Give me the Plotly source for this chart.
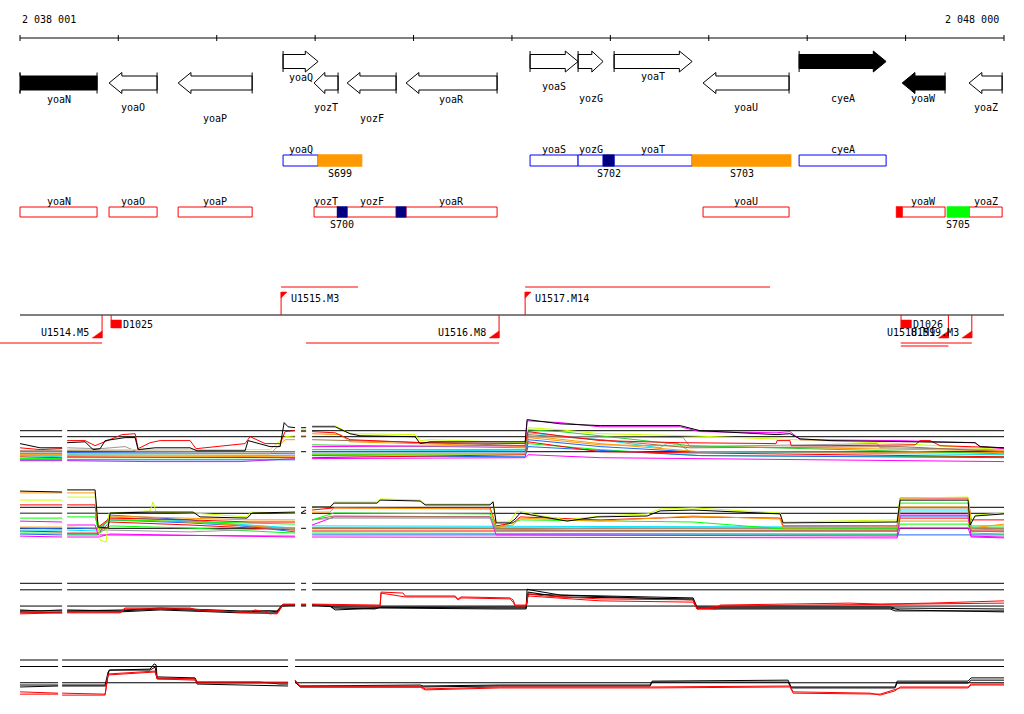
import plotly.graph_objects as go

# ---------------- genomic window ----------------
VIEW_START = 2038001
VIEW_END = 2048000
RULER_TICKS = [2038001, 2039000, 2040000, 2041000, 2042000, 2043000,
               2044000, 2045000, 2046000, 2047000, 2048000]
RULER_LABELS = ["2 038 001", "2 048 000"]

# ---------------- genes ----------------
GENE_NAME = ["yoaN", "yoaO", "yoaP", "yoaQ", "yozT", "yozF", "yoaR",
             "yoaS", "yozG", "yoaT", "yoaU", "cyeA", "yoaW", "yoaZ"]
GENE_START = [2037870, 2038906, 2039608, 2040674, 2040989, 2041325, 2041924,
              2043184, 2043672, 2044038, 2044942, 2045918, 2046965, 2047645]
GENE_END = [2038784, 2039394, 2040360, 2041030, 2041233, 2041823, 2042849,
            2043672, 2043926, 2044831, 2045816, 2046802, 2047401, 2047981]
GENE_STRAND = ["-", "-", "-", "+", "-", "-", "-", "+", "+", "+", "-", "+", "-", "-"]
GENE_FILLED = [True, False, False, False, False, False, False,
               False, False, False, False, True, True, False]

# ---------------- annotated segments ----------------
SEG_NAME = ["S699", "S700", "", "S702", "S703", "", "S705"]
SEG_START = [2041030, 2041223, 2041823, 2043926, 2044831, 2046904, 2047420]
SEG_END = [2041477, 2041325, 2041924, 2044038, 2045837, 2046965, 2047645]
SEG_STRAND = ["+", "-", "-", "+", "+", "-", "-"]
SEG_COLOR = ["#ff9900", "#000080", "#000080", "#000080", "#ff9900", "#ff0000", "#00ff00"]

# ---------------- transcription units / terminators ----------------
TU_NAME = ["U1514.M5", "U1515.M3", "U1516.M8", "U1517.M14", "U1518.M9", "U1519.M3"]
TU_START = [2037500, 2040654, 2040908, 2043134, 2046951, 2046951]
TU_END = [2038835, 2041437, 2042869, 2045623, 2047435, 2047673]
TU_STRAND = ["-", "+", "-", "+", "-", "-"]
TU_LANE = [0, 0, 0, 0, 1, 0]
TERM_NAME = ["D1025", "D1026"]
TERM_POS = [2038927, 2046954]

# ---------------- expression profiles ----------------
REF_LEVELS = [14, 12, 7]
SEGS_ABC = [(2038001, 2038429), (2038480, 2040796), (2040857, 2040908), (2040969, 2048000)]
SEGS_4 = [(2038001, 2038388), (2038429, 2040725), (2040796, 2048000)]

P1_BLACK = [(2038001, 9.7), (2038104, 9.0), (2038205, 8.3), (2038429, 8.3), None,
            (2038480, 10.0), (2038662, 10.3), (2038744, 7.7), (2038815, 8.0), (2038866, 10.7), (2039069, 11.7),
            (2039171, 11.7), (2039201, 7.7), (2039374, 8.3), (2039729, 8.3), (2039801, 7.3), (2040288, 7.3),
            (2040319, 10.7), (2040390, 10.0), (2040542, 8.7), (2040644, 8.7), (2040685, 16.7), (2040725, 15.3),
            (2040796, 15.0), None,
            (2040857, 15.0), (2040908, 15.0), None,
            (2040969, 15.3), (2041203, 15.3), (2041355, 13.0), (2041457, 12.3), (2042016, 12.0), (2042067, 9.7),
            (2042168, 10.3), (2043134, 10.3), (2043154, 17.7), (2043337, 17.0), (2043489, 16.3), (2043896, 15.7),
            (2044709, 15.7), (2044912, 14.0), (2045268, 13.3), (2045684, 12.7), (2045826, 13.0), (2045928, 11.3),
            (2046233, 10.7), (2046944, 10.3), (2047706, 10.0), (2047757, 8.7), (2048000, 8.3)]
P1_RED = [(2038001, 8.3), (2038205, 7.7), (2038429, 8.0), None,
          (2038480, 10.7), (2038662, 10.7), (2038764, 9.0), (2038866, 10.3), (2039039, 12.7), (2039171, 13.0),
          (2039201, 8.0), (2039323, 10.0), (2039425, 10.7), (2039729, 10.7), (2039790, 8.0), (2040288, 9.7),
          (2040339, 12.0), (2040492, 9.7), (2040644, 9.7), (2040695, 13.7), (2040796, 14.0), None,
          (2040857, 13.7), (2040908, 13.7), None,
          (2040969, 13.7), (2041203, 13.3), (2041355, 11.0), (2042067, 10.0), (2043134, 9.7), (2043164, 13.7),
          (2043489, 12.3), (2043896, 10.7), (2044709, 10.0), (2045684, 9.7), (2045694, 10.7), (2045826, 10.7),
          (2045837, 9.0), (2046233, 9.0), (2047097, 9.3), (2047147, 10.7), (2047249, 10.7), (2047351, 9.0),
          (2048000, 8.3)]
P1_MAGENTA = [(2040969, 8.7), (2043134, 9.0), (2043154, 17.3), (2043489, 16.7), (2043896, 15.3), (2044709, 15.3),
              (2044912, 13.7), (2045684, 13.3), (2045826, 13.7), (2045928, 11.0), (2046944, 10.7), (2047706, 10.0),
              (2047757, 8.7), (2048000, 8.0)]
P1_YELLOW = [(2038480, 7.7), (2040542, 7.7), (2040695, 12.0), (2040796, 12.3), None,
             (2040857, 14.3), (2040908, 14.3), None,
             (2040969, 15.7), (2041203, 15.7), (2041355, 13.0), (2042016, 12.7), (2042067, 10.7), (2042168, 11.0),
             (2043134, 10.0), (2043164, 15.0), (2043489, 14.3), (2043896, 13.0), (2044810, 12.3), (2046944, 9.7),
             (2048000, 7.7)]
P1_GRAY = [(2038001, 7.0), (2038429, 7.0), None,
           (2038480, 8.3), (2038815, 8.0), (2039069, 8.7), (2039191, 7.0), (2040796, 7.0), None,
           (2040969, 7.7), (2043134, 7.7), (2043164, 12.0), (2043692, 12.0), (2044739, 11.7), (2044810, 8.7),
           (2045999, 9.3), (2046711, 9.7), (2046741, 8.3), (2048000, 7.7)]
P1_ORANGE = [(2038001, 6.0), (2038429, 6.0), None,
             (2038480, 6.3), (2040542, 6.3), (2040695, 11.0), (2040796, 11.0), None,
             (2040857, 12.3), (2040908, 12.3), None,
             (2040969, 13.0), (2041254, 12.7), (2041355, 10.3), (2043134, 8.7), (2043164, 12.3), (2043896, 9.7),
             (2044912, 7.0), (2048000, 6.7)]
P1_CYAN = [(2038001, 5.7), (2038429, 5.3), None,
           (2038480, 6.0), (2040796, 5.7), None,
           (2040969, 7.7), (2043134, 7.3), (2043164, 13.3), (2043896, 11.0), (2044505, 8.3), (2044587, 10.0),
           (2044688, 9.7), (2044810, 7.0), (2048000, 6.0)]
P1_BLUE = [(2038001, 6.3), (2038429, 6.3), None,
           (2038480, 6.7), (2040796, 6.3), None,
           (2040969, 7.0), (2043134, 7.0), (2043164, 11.0), (2043896, 8.7), (2044810, 7.0), (2048000, 6.7)]
P1_GREEN = [(2038001, 4.7), (2038429, 4.7), None,
            (2038480, 5.0), (2040796, 5.0), None,
            (2040969, 6.0), (2043134, 6.3), (2043164, 9.7), (2043896, 7.7), (2044912, 5.7), (2048000, 5.3)]
P1_BROWN = [(2038001, 7.3), (2038429, 7.3), None,
            (2038480, 7.3), (2040796, 7.0), None,
            (2040969, 11.0), (2041863, 10.3), (2043134, 9.0), (2043164, 12.7), (2043896, 11.0), (2044810, 8.3),
            (2046944, 8.7), (2048000, 7.0)]
P1_RED2 = [(2038001, 5.3), (2038429, 5.0), None,
           (2038480, 5.3), (2040796, 5.0), None,
           (2040969, 5.0), (2043134, 6.0), (2043164, 10.3), (2043896, 7.0), (2048000, 5.3)]
P1_MAGENTA2 = [(2038001, 4.0), (2038429, 4.0), None,
               (2038480, 4.0), (2039323, 3.7), (2040238, 3.7), (2040796, 4.7), None,
               (2040969, 4.7), (2043134, 5.0), (2043164, 6.0), (2043896, 5.0), (2048000, 3.7)]
P1_BLUE2 = [(2038001, 4.3), (2038429, 4.3), None,
            (2038480, 4.3), (2040796, 4.3), None,
            (2040969, 5.7), (2043134, 5.3), (2043164, 8.7), (2044912, 5.7), (2048000, 5.0)]
P1_ORANGE2 = [(2038001, 5.7), (2038429, 5.7), None,
              (2038480, 5.7), (2040796, 5.3), None,
              (2040969, 6.3), (2043134, 6.3), (2043164, 11.7), (2043896, 9.3), (2048000, 7.3)]
P1_GREEN2 = [(2040969, 9.3), (2043134, 8.3), (2043164, 14.3), (2043489, 13.7), (2043896, 12.3), (2044810, 9.0),
             (2048000, 6.3)]

P2_BLACK = [(2038001, 19.4), (2038429, 19.1), None,
            (2038480, 19.8), (2038764, 19.8), (2038795, 7.4), (2038896, 7.1), (2038917, 12.1), (2039323, 12.4),
            (2039760, 12.4), (2039831, 10.8), (2040309, 10.4), (2040360, 12.1), (2040796, 12.4), None,
            (2040857, 12.1), (2040908, 13.1), None,
            (2040969, 14.1), (2041152, 14.1), (2041193, 15.4), (2041630, 15.4), (2041660, 16.4), (2042067, 16.1),
            (2042118, 14.8), (2042778, 14.8), (2042808, 15.8), (2042839, 8.8), (2042981, 8.8), (2043032, 10.1),
            (2043083, 12.1), (2043256, 11.1), (2043560, 9.4), (2043865, 10.8), (2044373, 11.1), (2044505, 12.8),
            (2044841, 13.1), (2045725, 11.8), (2045755, 8.8), (2046914, 9.1), (2046944, 16.4), (2047635, 16.4),
            (2047656, 8.1), (2047706, 11.1), (2048000, 11.8)]
P2_YELLOW = [(2038001, 16.4), (2038429, 16.4), None,
             (2038480, 17.4), (2038764, 17.4), (2038795, 8.1), (2038815, 3.1), (2038876, 2.4), (2038906, 12.1),
             (2039323, 12.8), (2039353, 15.8), (2039384, 12.4), (2039760, 12.1), (2040309, 10.8), (2040339, 12.4),
             (2040796, 12.1), None,
             (2040857, 12.1), (2040908, 13.8), None,
             (2040969, 13.8), (2041152, 14.1), (2041193, 15.8), (2041630, 15.8), (2041660, 16.8), (2042067, 16.4),
             (2042118, 15.1), (2042778, 15.1), (2042808, 16.1), (2042839, 9.1), (2042981, 9.4), (2043052, 12.8),
             (2043134, 12.4), (2043256, 11.4), (2043560, 9.8), (2043896, 11.1), (2044373, 11.8), (2044505, 13.4),
             (2044841, 13.8), (2045725, 12.1), (2045755, 9.1), (2046914, 9.8), (2046944, 17.1), (2047635, 17.4),
             (2047666, 8.8), (2047706, 11.4), (2048000, 12.1)]
P2_ORANGE = [(2038001, 18.8), (2038429, 18.8), None,
             (2038480, 18.8), (2038764, 18.8), (2038795, 7.1), (2038896, 7.1), (2038917, 11.1), (2039729, 10.4),
             (2040339, 9.8), (2040796, 9.8), None,
             (2040969, 12.4), (2041152, 12.4), (2041193, 13.8), (2042778, 13.4), (2042839, 7.4), (2043012, 8.1),
             (2043083, 10.4), (2043896, 9.4), (2044841, 11.1), (2045725, 10.1), (2045755, 7.1), (2046914, 7.4),
             (2046944, 14.1), (2047635, 14.1), (2047666, 7.1), (2048000, 8.4)]
P2_RED = [(2038001, 14.8), (2038429, 14.8), None,
          (2038480, 14.8), (2038764, 14.8), (2038795, 7.4), (2038917, 10.4), (2039729, 9.8), (2040339, 9.1),
          (2040796, 9.1), None,
          (2040969, 13.1), (2041193, 13.8), (2042778, 13.8), (2042839, 7.8), (2043012, 8.8), (2043083, 10.8),
          (2043896, 9.8), (2044841, 10.8), (2045725, 10.4), (2045755, 7.8), (2046914, 7.8), (2046944, 17.1),
          (2047635, 17.1), (2047666, 9.8), (2048000, 9.8)]
P2_GREEN = [(2038001, 10.4), (2038429, 10.4), None,
            (2038480, 10.8), (2038764, 10.8), (2038795, 6.8), (2038917, 9.8), (2040796, 8.4), None,
            (2040969, 9.8), (2041193, 12.1), (2042778, 11.8), (2042839, 7.1), (2043083, 9.8), (2044841, 9.1),
            (2045755, 6.8), (2046914, 6.8), (2046944, 15.4), (2047635, 15.4), (2047666, 7.8), (2048000, 7.8)]
P2_GRAY = [(2038001, 12.1), (2038429, 12.1), None,
           (2038480, 12.1), (2038764, 12.1), (2038795, 6.4), (2038917, 6.4), (2039729, 5.8), (2040796, 7.1), None,
           (2040969, 9.8), (2041193, 10.4), (2042778, 10.4), (2042839, 6.4), (2043896, 7.1), (2046914, 7.1),
           (2046944, 12.4), (2047635, 12.4), (2047666, 6.8), (2048000, 6.4)]
P2_MAGENTA = [(2038001, 9.4), (2038429, 9.1), None,
              (2038480, 8.1), (2038764, 8.1), (2038795, 4.8), (2040796, 4.4), None,
              (2040969, 8.1), (2041193, 10.8), (2042778, 10.8), (2042839, 4.8), (2046914, 4.4), (2046944, 11.4),
              (2047635, 11.4), (2047666, 4.4), (2048000, 4.1)]
P2_BROWN = [(2040969, 9.8), (2041193, 11.1), (2042778, 10.8), (2042839, 6.4), (2046914, 6.1), (2046944, 13.8),
            (2047635, 13.8), (2047666, 6.1), (2048000, 5.8)]
P2_CYAN = [(2038001, 6.4), (2038429, 6.4), None,
           (2038480, 6.4), (2038795, 6.1), (2038917, 10.8), (2039729, 9.4), (2040796, 7.1), None,
           (2040969, 7.8), (2046914, 7.4), (2046944, 13.1), (2047635, 13.1), (2047666, 7.4), (2048000, 7.1)]
P2_BLUE = [(2038001, 7.1), (2038429, 6.8), None,
           (2038480, 7.1), (2038795, 6.8), (2038917, 9.8), (2039729, 8.8), (2040796, 6.8), None,
           (2040969, 7.1), (2046914, 6.8), (2046944, 11.1), (2047635, 11.1), (2047666, 7.1), (2048000, 6.8)]
P2_RED2 = [(2038001, 6.1), (2038429, 5.8), None,
           (2038480, 5.4), (2038795, 5.4), (2038917, 9.1), (2039729, 8.1), (2040796, 6.4), None,
           (2040969, 6.1), (2046914, 6.1), (2046944, 10.4), (2047635, 10.4), (2047666, 6.1), (2048000, 6.1)]
P2_ORANGE2 = [(2038001, 7.4), (2038429, 7.4), None,
              (2038480, 7.4), (2038795, 7.1), (2038917, 10.1), (2039729, 9.1), (2040796, 6.8), None,
              (2040969, 6.8), (2046914, 6.8), (2046944, 9.4), (2047635, 9.4), (2047666, 6.8), (2048000, 6.8)]
P2_GREEN2 = [(2038001, 5.4), (2038429, 5.4), None,
             (2038480, 5.1), (2038795, 5.1), (2038917, 7.8), (2039729, 7.1), (2040796, 5.4), None,
             (2040969, 5.4), (2046914, 5.1), (2046944, 8.4), (2047635, 8.4), (2047666, 5.4), (2048000, 5.1)]
P2_MAGENTA2 = [(2038001, 4.4), (2038429, 4.1), None,
               (2038480, 4.1), (2038795, 4.1), (2038917, 5.1), (2040796, 4.1), None,
               (2040969, 4.1), (2046914, 3.8), (2046944, 7.1), (2047635, 7.1), (2047666, 4.1), (2048000, 3.8)]
P2_BLUE2 = [(2038001, 5.1), (2038429, 4.8), None,
            (2038480, 4.8), (2038795, 4.8), (2038917, 11.4), (2039729, 9.8), (2040796, 5.8), None,
            (2040969, 4.8), (2048000, 4.8)]

P3_BLACK1 = [(2038001, 5.8), (2038205, 5.5), (2038429, 5.8), None,
             (2038480, 5.8), (2039018, 5.5), (2039425, 6.1), (2039729, 5.8), (2040238, 5.2), (2040542, 5.5),
             (2040614, 5.2), (2040664, 7.3), (2040796, 7.3), None,
             (2040857, 7.3), (2040908, 7.3), None,
             (2040969, 7.3), (2041132, 7.3), (2041183, 6.4), (2041609, 6.1), (2041660, 6.7), (2043144, 6.7),
             (2043154, 12.2), (2043195, 11.9), (2043489, 10.4), (2043896, 10.1), (2044505, 9.8), (2044841, 9.5),
             (2044881, 6.7), (2046843, 6.7), (2046893, 6.4), (2047859, 6.1), (2048000, 6.1)]
P3_BLACK2 = [(2038001, 5.2), (2038429, 4.9), None,
             (2038480, 5.2), (2039018, 5.2), (2039425, 5.8), (2040238, 4.9), (2040614, 4.9), (2040664, 7.0),
             (2040796, 7.3), None,
             (2040857, 7.3), (2040908, 7.3), None,
             (2040969, 7.3), (2041152, 7.0), (2041203, 5.8), (2041660, 6.4), (2042880, 6.1), (2043144, 6.1),
             (2043164, 11.3), (2043489, 9.8), (2044841, 9.2), (2044881, 6.1), (2046843, 6.1), (2046893, 5.5),
             (2048000, 5.5)]
P3_BLACK3 = [(2038001, 5.5), (2038429, 5.5), None,
             (2038480, 5.5), (2039069, 5.8), (2039425, 6.4), (2040238, 5.5), (2040614, 5.5), (2040664, 7.3),
             (2040796, 7.3), None,
             (2040969, 7.3), (2041203, 6.7), (2042880, 6.4), (2043144, 6.4), (2043164, 10.7), (2044841, 8.9),
             (2044881, 6.4), (2046843, 6.4), (2046944, 5.8), (2048000, 5.2)]
P3_RED1 = [(2038001, 4.9), (2038429, 5.2), None,
           (2038480, 5.2), (2039018, 5.2), (2039069, 6.4), (2039729, 6.4), (2039831, 5.5), (2040339, 5.2),
           (2040390, 5.8), (2040492, 5.2), (2040542, 4.6), (2040614, 4.9), (2040674, 7.6), (2040796, 7.6), None,
           (2040857, 7.6), (2040908, 7.6), None,
           (2040969, 7.6), (2041660, 7.3), (2041670, 11.3), (2041894, 11.0), (2041914, 10.1), (2042422, 10.1),
           (2042453, 9.2), (2042483, 9.8), (2042981, 9.5), (2043012, 8.9), (2043032, 7.3), (2043144, 7.3),
           (2043164, 10.7), (2043337, 10.1), (2043896, 9.2), (2044841, 8.9), (2044881, 6.4), (2045085, 6.1),
           (2045115, 7.3), (2045928, 7.6), (2046436, 7.9), (2046741, 7.6), (2047249, 7.9), (2048000, 8.6)]
P3_RED2 = [(2038001, 4.6), (2038429, 4.9), None,
           (2038480, 4.9), (2039018, 4.9), (2039069, 6.1), (2039729, 6.1), (2040339, 4.9), (2040614, 4.6),
           (2040674, 7.3), (2040796, 7.3), None,
           (2040857, 7.3), (2040908, 7.3), None,
           (2040969, 7.3), (2041660, 7.0), (2041670, 11.0), (2041914, 9.8), (2042422, 9.8), (2042453, 8.9),
           (2042483, 9.5), (2042981, 9.2), (2043012, 8.2), (2043032, 7.0), (2043144, 7.0), (2043164, 10.1),
           (2043896, 8.6), (2044841, 8.2), (2044881, 6.1), (2045115, 7.0), (2048000, 7.9)]

P4_BLACK1 = [(2038001, 6.3), (2038388, 6.3), None,
             (2038429, 6.3), (2038866, 6.3), (2038896, 10.3), (2038917, 10.9), (2039323, 11.2), (2039364, 12.8),
             (2039384, 12.5), (2039394, 8.8), (2039780, 8.5), (2039801, 7.2), (2040441, 7.2), (2040644, 6.6),
             (2040725, 6.6), None,
             (2040796, 7.5), (2040847, 6.0), (2042067, 6.3), (2042097, 6.0), (2042880, 6.3), (2044404, 6.3),
             (2044424, 7.5), (2045806, 7.8), (2045837, 5.7), (2046893, 5.7), (2046914, 7.5), (2047635, 7.5),
             (2047666, 8.5), (2048000, 8.5)]
P4_BLACK2 = [(2038001, 5.7), (2038388, 6.0), None,
             (2038429, 6.0), (2038876, 6.0), (2038906, 10.9), (2039323, 10.9), (2039374, 11.8), (2039394, 8.2),
             (2039780, 8.2), (2039801, 6.6), (2040725, 6.0), None,
             (2040796, 7.2), (2040847, 5.7), (2042067, 5.7), (2042880, 6.0), (2044404, 6.0), (2044424, 7.2),
             (2045806, 7.2), (2045837, 5.4), (2046893, 5.4), (2046914, 6.9), (2047635, 6.9), (2047666, 7.8),
             (2048000, 7.8)]
P4_RED1 = [(2038001, 4.2), (2038388, 3.8), None,
           (2038429, 3.8), (2038866, 3.5), (2038896, 9.7), (2039323, 10.3), (2039374, 10.6), (2039394, 8.5),
           (2039780, 8.2), (2039801, 7.2), (2040725, 7.2), None,
           (2040796, 7.8), (2040847, 6.0), (2042067, 6.0), (2042118, 5.1), (2042880, 5.7), (2044404, 5.7),
           (2045826, 6.0), (2045857, 4.2), (2046639, 3.8), (2046741, 3.2), (2046893, 4.5), (2046944, 5.7),
           (2047635, 5.7), (2047666, 6.6), (2048000, 6.6)]
P4_RED2 = [(2038001, 3.5), (2038388, 3.5), None,
           (2038429, 3.2), (2038866, 3.2), (2038896, 9.4), (2039323, 10.0), (2039374, 10.3), (2039394, 8.2),
           (2039780, 7.8), (2039801, 6.9), (2040725, 6.9), None,
           (2040796, 7.8), (2040847, 5.7), (2042067, 5.7), (2042118, 4.8), (2042880, 5.4), (2044404, 5.4),
           (2045826, 5.7), (2045857, 3.8), (2046741, 3.5), (2046893, 4.8), (2046944, 5.4), (2047635, 5.4),
           (2047666, 6.3), (2048000, 6.3)]

# ---------------- style / layout constants ----------------
W, H = 1024, 714
FONT = dict(family="DejaVu Sans Mono", size=10, color="black")
PX_PER_BP = 984.0 / (VIEW_END - VIEW_START)
X_RANGE = [VIEW_START - 20 / PX_PER_BP, VIEW_START + 1004 / PX_PER_BP]
TRACK_PX = 360
RULER_Y = 38
ARROW_Y = {"+": 61.5, "-": 83.0}
BODY_HALF, HEAD_HALF, HEAD_BP = 7.0, 10.5, 130
GENE_LABEL_Y = [99, 107, 118, 77, 107, 118, 99, 86, 98, 76, 107, 98, 98, 107]
BOX_Y = {"+": (155, 166), "-": (207, 217)}
BOX_COLOR = {"+": "#0000ff", "-": "#ff0000"}
BOX_LABEL_Y = {"+": 149, "-": 201}
SEG_LABEL_Y = {"+": 173, "-": 224}
AXIS_Y = 315
TU_Y = {"+": 287, "-": 343}
PANELS = [  # top px, bottom px, px of REF_LEVELS[0], px per unit
    (410, 475, 430.7, 3.0),
    (482, 552, 507.3, 3.0),
    (572, 628, 583.3, 3.25),
    (645, 705, 660.0, 3.25),
]
BAND_COLORS = {"black": "#000000", "red": "#ff0000", "magenta": "#ff00ff", "yellow": "#ccff00",
               "gray": "#999999", "orange": "#ff9900", "cyan": "#00e5ff", "blue": "#1a66ff",
               "green": "#00ff00", "brown": "#a0704a", "green2": "#33cc33"}

fig = go.Figure()


def clip(x):
    return min(max(x, VIEW_START), VIEW_END)


def split(pairs):
    xs, ys = [], []
    for p in pairs:
        if p is None:
            xs.append(None)
            ys.append(None)
        else:
            xs.append(p[0])
            ys.append(p[1])
    return xs, ys


def line(xs, ys, color, yaxis="y", width=1):
    fig.add_trace(go.Scatter(x=xs, y=ys, mode="lines", yaxis=yaxis,
                             line=dict(color=color, width=width),
                             hoverinfo="skip", showlegend=False, connectgaps=False))


def poly(xs, ys, fill, outline, width=1):
    fig.add_trace(go.Scatter(x=xs, y=ys, mode="lines", fill="toself", fillcolor=fill,
                             line=dict(color=outline, width=width),
                             hoverinfo="skip", showlegend=False))


annotations = []


def label(x, y, text, anchor="center", yref="y", xshift=0):
    annotations.append(dict(x=x, y=y, xref="x", yref=yref, text=text, showarrow=False,
                            xanchor=anchor, yanchor="middle", font=FONT, xshift=xshift))


# ---- ruler ----
line([VIEW_START, VIEW_END], [RULER_Y, RULER_Y], "black")
tx, ty = [], []
for t in RULER_TICKS:
    tx += [t, t, None]
    ty += [RULER_Y - 3, RULER_Y + 3, None]
line(tx, ty, "black")
label(VIEW_START, 19, RULER_LABELS[0], anchor="left")
label(VIEW_END, 19, RULER_LABELS[1], anchor="right", xshift=-3)

# ---- gene arrows ----
bx, by = [], []
for name, s, e, st, filled, ly in zip(GENE_NAME, GENE_START, GENE_END, GENE_STRAND,
                                       GENE_FILLED, GENE_LABEL_Y):
    yc = ARROW_Y[st]
    L = min(HEAD_BP, 0.45 * (e - s))
    if st == "+":
        xs = [s, e - L, e - L, e, e - L, e - L, s, s]
        tail = e if False else s
    else:
        xs = [e, s + L, s + L, s, s + L, s + L, e, e]
        tail = e
    ys = [yc - BODY_HALF, yc - BODY_HALF, yc - HEAD_HALF, yc, yc + HEAD_HALF,
          yc + BODY_HALF, yc + BODY_HALF, yc - BODY_HALF]
    xs = [clip(x) for x in xs]
    poly(xs, ys, "black" if filled else "white", "black")
    bx += [clip(tail), clip(tail), None]
    by += [yc - HEAD_HALF, yc + HEAD_HALF, None]
    label((clip(s) + clip(e)) / 2, ly, name)
line(bx, by, "black")

# ---- gene boxes on strand rows ----
for name, s, e, st in zip(GENE_NAME, GENE_START, GENE_END, GENE_STRAND):
    y0, y1 = BOX_Y[st]
    a, b = clip(s), clip(e)
    poly([a, b, b, a, a], [y0, y0, y1, y1, y0], "white", BOX_COLOR[st])
    label((a + b) / 2, BOX_LABEL_Y[st], name)
for name, s, e, st, col in zip(SEG_NAME, SEG_START, SEG_END, SEG_STRAND, SEG_COLOR):
    y0, y1 = BOX_Y[st]
    poly([s, e, e, s, s], [y0 - 0.5, y0 - 0.5, y1 + 0.5, y1 + 0.5, y0 - 0.5], col, col, width=0.5)
    if name:
        label((s + e) / 2, SEG_LABEL_Y[st], name)

# ---- transcription units ----
line([VIEW_START, VIEW_END], [AXIS_Y, AXIS_Y], "black")
for name, s, e, st, lane in zip(TU_NAME, TU_START, TU_END, TU_STRAND, TU_LANE):
    if st == "+":
        yl = TU_Y["+"]
        line([s, e], [yl, yl], "#ff0000")
        line([s, s], [AXIS_Y, 292], "#ff0000")
        poly([s, s + 60, s, s], [292, 292, 298, 292], "#ff0000", "#ff0000", width=0.5)
        label(s, 298, name, anchor="left", xshift=8)
    else:
        yl = TU_Y["-"] + 3 * lane
        line([s, e], [yl, yl], "#ff0000")
        line([e, e], [AXIS_Y, 338], "#ff0000")
        poly([e, e - 100, e, e], [338, 338, 331, 338], "#ff0000", "#ff0000", width=0.5)
        label(e, 332, name, anchor="right", xshift=-11)
for name, p in zip(TERM_NAME, TERM_POS):
    line([p, p], [AXIS_Y, 328], "#ff0000")
    poly([p, p + 105, p + 105, p, p], [320, 320, 328, 328, 320], "#ff0000", "#ff0000", width=0.5)
    label(p, 324, name, anchor="left", xshift=10)

# ---- expression panels ----
panel_series = [
    [(P1_MAGENTA2, "magenta"), (P1_GREEN, "green"), (P1_BLUE2, "blue"), (P1_RED2, "red"),
     (P1_CYAN, "cyan"), (P1_ORANGE2, "orange"), (P1_BLUE, "blue"), (P1_ORANGE, "orange"),
     (P1_GRAY, "gray"), (P1_BROWN, "brown"), (P1_GREEN2, "green2"), (P1_YELLOW, "yellow"),
     (P1_MAGENTA, "magenta"), (P1_RED, "red"), (P1_BLACK, "black")],
    [(P2_MAGENTA2, "magenta"), (P2_BLUE2, "blue"), (P2_GREEN2, "green"), (P2_RED2, "red"),
     (P2_CYAN, "cyan"), (P2_BLUE, "blue"), (P2_ORANGE2, "orange"), (P2_MAGENTA, "magenta"),
     (P2_BROWN, "brown"), (P2_GRAY, "gray"), (P2_GREEN, "green"), (P2_RED, "red"),
     (P2_ORANGE, "orange"), (P2_YELLOW, "yellow"), (P2_BLACK, "black")],
    [(P3_BLACK3, "black"), (P3_BLACK2, "black"), (P3_BLACK1, "black"), (P3_RED2, "red"), (P3_RED1, "red")],
    [(P4_BLACK2, "black"), (P4_BLACK1, "black"), (P4_RED2, "red"), (P4_RED1, "red")],
]
panel_segments = [SEGS_ABC, SEGS_ABC, SEGS_ABC, SEGS_4]

layout_axes = {}
for i, ((top, bot, ref_px, s), series, segs) in enumerate(zip(PANELS, panel_series, panel_segments)):
    ax = "y%d" % (i + 2)
    layout_axes["yaxis%d" % (i + 2)] = dict(
        domain=[1 - bot / H, 1 - top / H],
        range=[REF_LEVELS[0] - (bot - ref_px) / s, REF_LEVELS[0] + (ref_px - top) / s],
        visible=False, fixedrange=True, anchor="x")
    for lev in REF_LEVELS:
        rx, ry = [], []
        for a, b in segs:
            rx += [a, b, None]
            ry += [lev, lev, None]
        line(rx, ry, "black", yaxis=ax)
    for data, cname in series:
        xs, ys = split(data)
        line(xs, ys, BAND_COLORS[cname], yaxis=ax)

fig.update_layout(
    width=W, height=H, autosize=False,
    margin=dict(l=0, r=0, t=0, b=0, pad=0),
    paper_bgcolor="white", plot_bgcolor="white",
    showlegend=False, hovermode=False,
    xaxis=dict(range=X_RANGE, visible=False, fixedrange=True),
    yaxis=dict(domain=[1 - TRACK_PX / H, 1], range=[TRACK_PX, 0], visible=False, fixedrange=True),
    annotations=annotations,
    **layout_axes,
)

fig.write_html("out.html", config={"displayModeBar": False, "staticPlot": True},
               post_script="document.body.style.margin='0px';document.body.style.overflow='hidden';")
